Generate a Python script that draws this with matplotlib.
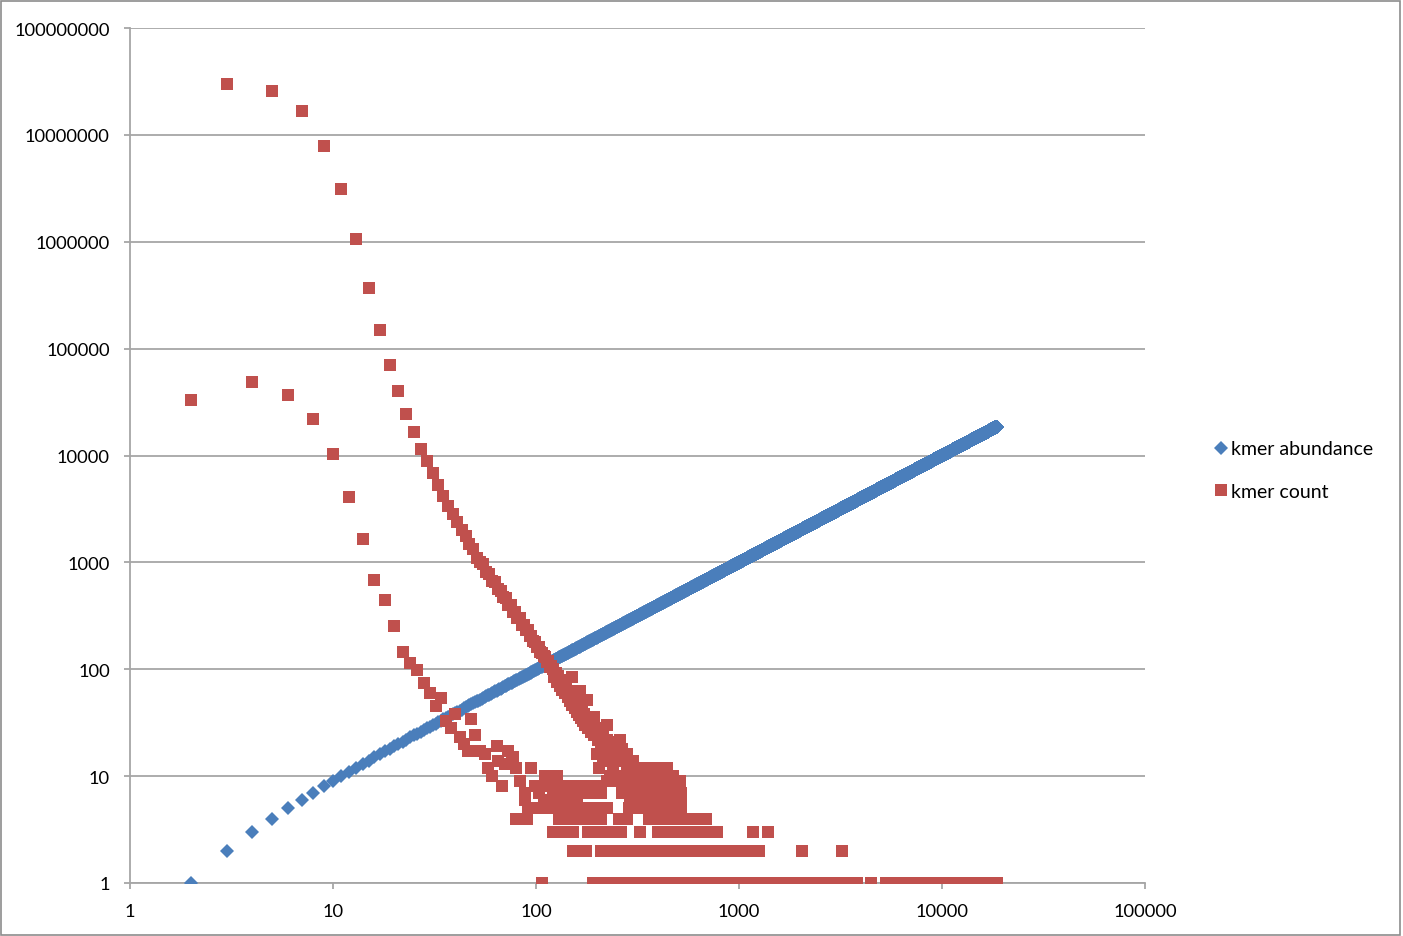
import numpy as np
import matplotlib
matplotlib.use("Agg")
import matplotlib.pyplot as plt
from matplotlib.ticker import FixedLocator, FixedFormatter
from matplotlib.patches import Rectangle

plt.rcParams['font.family'] = ['Lato', 'DejaVu Sans']

# blue series: kmer abundance vs row number (row = abundance + 1)
row = np.arange(2, 18662)
kmer_abundance = row - 1

# red series: kmer count per abundance
# high branch (odd abundance rows)
upper_x = list(range(3, 120, 2))
upper_y = [30000000, 26000000, 16600000, 7800000, 3100000, 1070000, 370000, 150000,
           71000, 40000, 24600, 16700, 11500, 8800, 6900, 5300, 4200, 3400, 2860, 2400,
           2000, 1760, 1470, 1330, 1110, 1000, 960, 820, 780, 670, 650, 560, 545, 470,
           465, 400, 395, 345, 345, 300, 300, 262, 262, 232, 232, 205, 205, 182, 180,
           162, 160, 146, 142, 132, 130, 118, 120, 106, 108]
# low branch (even abundance rows)
lower_x = [2, 4, 6, 8, 10, 12, 14, 16, 18, 20, 22, 24, 26, 28, 30, 32, 34, 36, 38, 40,
           42, 44, 46, 48, 50]
lower_y = [33000, 49000, 37000, 22000, 10300, 4100, 1660, 690, 447, 255, 145, 115, 99,
           74, 60, 45, 54, 33, 28, 38, 23, 20, 17, 34, 24]
# noisy band after the crossing
band_x = [121, 123, 125, 127, 129, 131, 133, 135, 137, 139, 141, 143, 145, 147, 149, 150,
          151, 153, 155, 157, 159, 161, 163, 165, 165, 167, 169, 171, 173, 175, 178, 178,
          181, 184, 187, 190, 194, 194, 198, 202, 206, 210, 214, 218, 223, 223, 228, 234,
          240, 246, 252, 259, 259, 265, 272, 280, 290, 300, 305]
band_y = [100, 84, 92, 76, 86, 70, 80, 64, 74, 60, 68, 55, 62, 50, 58, 84, 46, 54, 43, 50,
          40, 46, 37, 62, 43, 35, 40, 33, 38, 30, 52, 35, 28, 32, 26, 30, 36, 24, 28, 22,
          26, 20, 24, 19, 30, 22, 18, 21, 17, 20, 16, 22, 15, 18, 14, 16, 13, 14, 12]
# low counts (one list of abundance rows per count value)
count1_x = [107, 191, 205, 222, 240, 260, 282, 305, 330, 357, 387, 419, 454, 492, 533, 577,
            625, 677, 733, 794, 860, 931, 1010, 1090, 1180, 1280, 1390, 1500, 1630, 1760,
            1910, 2070, 2240, 2430, 2630, 2850, 3090, 3340, 3620, 3800, 4470, 5300, 5740,
            6220, 6740, 7300, 7900, 8560, 9280, 10050, 10890, 11800, 12780, 13850, 15000,
            16250, 17600, 18660]
count2_x = [153, 165, 177, 209, 226, 245, 265, 287, 311, 337, 365, 395, 428, 464, 502, 544,
            589, 638, 691, 749, 811, 878, 951, 1030, 1115, 1180, 1250, 2040, 3200]
count3_x = [121, 138, 153, 180, 200, 221, 241, 262, 325, 398, 425, 457, 490, 523, 560, 598,
            640, 685, 730, 778, 1170, 1390]
count4_x = [80, 90, 130, 141, 153, 166, 180, 194, 210, 255, 280, 360, 390, 422, 457, 495,
            536, 580, 630, 685]
count5_x = [91, 104, 117, 127, 139, 159, 176, 194, 213, 223, 287, 310, 336, 364, 394, 427,
            462, 500, 520]
count6_x = [88, 110, 113, 121, 131, 140, 152, 160, 290, 330, 370, 410, 450, 500, 520]
count7_x = [88, 104, 121, 135, 150, 170, 183, 194, 210, 265, 290, 333, 370, 408, 450, 495,
            520]
count8_x = [68, 99, 113, 121, 131, 136, 139, 150, 165, 185, 205, 280, 320, 360, 400, 440,
            480]
count9_x = [83, 225, 255, 300, 345, 400, 480, 510]
count10_x = [61, 111, 120, 127, 232, 260, 290, 330, 380, 430, 472]
count11_x = [300, 366, 418]
count12_x = [58, 80, 95, 205, 240, 280, 320, 352, 390, 418, 440]
count13_x = [70]
count14_x = [65, 76, 235, 262, 300]
count15_x = [77, 213, 239]
count16_x = [56, 200, 225, 250]
count17_x = [53, 73]
count19_x = [64, 218]

low_rows = [(1, count1_x), (2, count2_x), (3, count3_x), (4, count4_x), (5, count5_x),
            (6, count6_x), (7, count7_x), (8, count8_x), (9, count9_x), (10, count10_x),
            (11, count11_x), (12, count12_x), (13, count13_x), (14, count14_x),
            (15, count15_x), (16, count16_x), (17, count17_x), (19, count19_x)]

red_x = upper_x + lower_x + band_x
red_y = upper_y + lower_y + band_y
for c, xs in low_rows:
    red_x += xs
    red_y += [c] * len(xs)

x_ticks = [1, 10, 100, 1000, 10000, 100000]
y_ticks = [1, 10, 100, 1000, 10000, 100000, 1000000, 10000000, 100000000]

BLUE = '#4a7ebb'
RED = '#c0504d'
GRID = '#a6a6a6'

fig = plt.figure(figsize=(14.03, 9.37), dpi=100)
ax = fig.add_axes([130 / 1403, 53 / 937, 1015 / 1403, 855 / 937])
ax.set_xscale('log')
ax.set_yscale('log')

ax.plot(row, kmer_abundance, linestyle='none', marker='D', markersize=7.4,
        color=BLUE, markeredgewidth=0, label='kmer abundance', zorder=3)
ax.plot(red_x, red_y, linestyle='none', marker='s', markersize=8.6,
        color=RED, markeredgewidth=0, label='kmer count', zorder=4)

ax.set_xlim(1, 100000)
ax.set_ylim(1, 100000000)
ax.xaxis.set_major_locator(FixedLocator(x_ticks))
ax.xaxis.set_major_formatter(FixedFormatter([str(v) for v in x_ticks]))
ax.yaxis.set_major_locator(FixedLocator(y_ticks))
ax.yaxis.set_major_formatter(FixedFormatter([str(v) for v in y_ticks]))
ax.xaxis.set_minor_locator(FixedLocator([]))
ax.yaxis.set_minor_locator(FixedLocator([]))

ax.grid(axis='y', color=GRID, linewidth=1.3, zorder=1)
for side in ['top', 'right']:
    ax.spines[side].set_visible(False)
for side in ['left', 'bottom']:
    ax.spines[side].set_color(GRID)
    ax.spines[side].set_linewidth(1.3)
ax.tick_params(axis='both', direction='out', length=4.3, width=1.3, color=GRID,
               labelsize=13.2, labelcolor='black')
ax.tick_params(axis='y', pad=10.2)
ax.tick_params(axis='x', pad=10.2)
ax.set_axisbelow(True)

leg = fig.legend(loc='center left', bbox_to_anchor=(1203 / 1403, 1 - 471 / 937),
                 frameon=False, fontsize=14, handletextpad=0.05, labelspacing=1.3,
                 handlelength=1.0, borderaxespad=0)

fig.patches.append(Rectangle((0.0008, 0.0012), 0.9972, 0.9968, transform=fig.transFigure,
                             fill=False, edgecolor='#8c8c8c', linewidth=1.2))

fig.savefig('out.png', dpi=100)
